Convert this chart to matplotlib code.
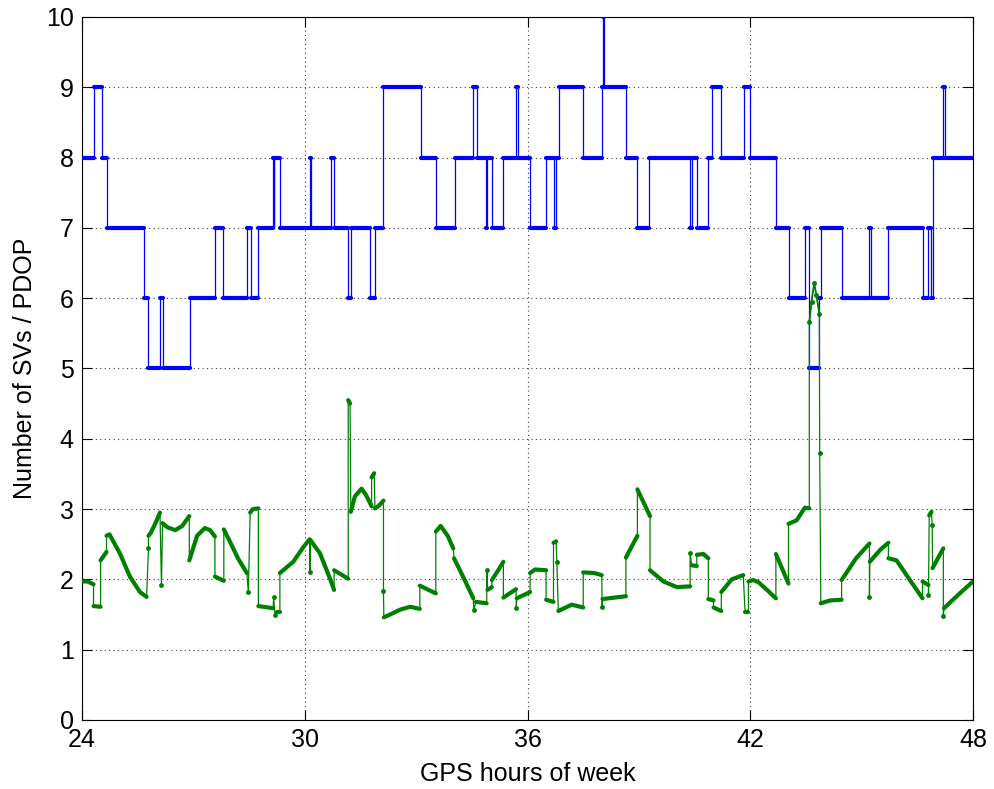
import numpy as np
import matplotlib
matplotlib.use("Agg")
import matplotlib.pyplot as plt

plt.rcParams['font.family'] = ['Liberation Sans', 'DejaVu Sans']

# number of satellites in view: hour where each level starts, and the level
sv_hours = [24.00, 24.31, 24.53, 24.66, 25.67, 25.79, 26.10, 26.19, 26.91, 27.58,
            27.81, 28.44, 28.54, 28.75, 29.14, 29.16, 29.18, 29.33, 30.14, 30.17,
            30.70, 30.79, 31.17, 31.24, 31.76, 31.89, 32.12, 33.12, 33.53, 34.05,
            34.54, 34.65, 34.89, 34.91, 35.04, 35.33, 35.69, 35.74, 36.07, 36.50,
            36.70, 36.77, 36.86, 37.50, 38.00, 38.03, 38.05, 38.65, 38.96, 39.28,
            40.38, 40.42, 40.56, 40.87, 40.98, 41.21, 41.83, 41.99, 42.69, 43.03,
            43.47, 43.59, 43.86, 43.90, 44.46, 45.21, 45.24, 45.72, 46.64, 46.80,
            46.86, 46.91, 47.20, 47.25]
sv_counts = [8, 9, 8, 7, 6, 5, 6, 5, 6, 7,
             6, 7, 6, 7, 8, 7, 8, 7, 8, 7,
             8, 7, 6, 7, 6, 7, 9, 8, 7, 8,
             9, 8, 7, 8, 7, 8, 9, 8, 7, 8,
             7, 8, 9, 8, 9, 10, 9, 8, 7, 8,
             7, 8, 7, 8, 9, 8, 9, 8, 7, 6,
             7, 5, 6, 7, 6, 7, 6, 7, 6, 7,
             6, 8, 9, 8]
sv_end = 48.0

# PDOP samples, grouped into continuous arcs (pdop_arc_sizes points each)
pdop_hours = [24.00, 24.15, 24.31,  24.31, 24.50,  24.50, 24.66,
              24.66, 24.74, 25.02, 25.29, 25.56, 25.74,  25.79,
              25.79, 25.85, 25.98, 26.10,  26.14,  26.17, 26.30, 26.51, 26.70, 26.89,
              26.89, 27.10, 27.31, 27.45, 27.58,  27.58, 27.82,
              27.82, 28.00, 28.20, 28.44,  28.48,  28.53, 28.60, 28.75,
              28.75, 29.15,  29.16,  29.20,  29.24, 29.33,
              29.33, 29.69, 29.95, 30.13,  30.14,  30.15, 30.41, 30.68, 30.79,
              30.79, 31.17,  31.17, 31.22,  31.24, 31.35, 31.53, 31.65, 31.80,
              31.80, 31.87,  31.89, 32.00, 32.12,  32.12,
              32.13, 32.30, 32.57, 32.84, 33.10,  33.10, 33.53,
              33.53, 33.66, 33.85, 34.00,  34.02, 34.30, 34.54,  34.55,
              34.61, 34.90,  34.91,  34.92, 35.04,  35.04, 35.20, 35.35,
              35.35, 35.69,  35.70,  35.71, 36.07,  36.07, 36.20, 36.50,
              36.50, 36.70,  36.70, 36.77,  36.79,  36.83, 37.19, 37.50,
              37.50, 37.80, 38.00,  38.01,  38.02, 38.65,  38.65, 38.96,
              38.96, 39.30,  39.30, 39.66, 40.02, 40.38,  40.38,
              40.42, 40.56,  40.56, 40.74, 40.87,  40.87, 41.01,  41.01, 41.22,
              41.22, 41.50, 41.81,  41.86, 41.95,
              41.95, 42.08, 42.22, 42.45, 42.69,  42.69, 43.03,
              43.03, 43.25, 43.47, 43.59,  43.59, 43.65, 43.72, 43.78, 43.86,  43.87,
              43.90, 44.15, 44.46,  44.46, 44.85, 45.21,  45.21,
              45.22, 45.50, 45.72,  45.72, 45.94, 46.30, 46.64,  46.64, 46.80,  46.80,
              46.82, 46.88,  46.90,  46.91, 47.20,  47.20,  47.22, 47.60, 48.00]
pdop_values = [1.97, 1.97, 1.93,  1.62, 1.61,  2.27, 2.39,
               2.62, 2.64, 2.37, 2.04, 1.82, 1.75,  2.44,
               2.62, 2.66, 2.80, 2.95,  1.92,  2.80, 2.74, 2.70, 2.76, 2.90,
               2.27, 2.62, 2.73, 2.70, 2.61,  2.04, 1.98,
               2.71, 2.52, 2.30, 2.09,  1.82,  2.95, 3.00, 3.01,
               1.62, 1.59,  1.75,  1.49,  1.53, 1.53,
               2.09, 2.25, 2.45, 2.57,  2.11,  2.56, 2.37, 2.01, 1.85,
               2.13, 2.01,  4.55, 4.50,  2.96, 3.18, 3.29, 3.20, 3.04,
               3.45, 3.51,  3.01, 3.05, 3.12,  1.83,
               1.46, 1.50, 1.57, 1.61, 1.58,  1.91, 1.80,
               2.68, 2.76, 2.62, 2.44,  2.30, 2.00, 1.73,  1.56,
               1.68, 1.66,  2.14,  1.85, 1.89,  1.99, 2.12, 2.25,
               1.74, 1.86,  1.59,  1.73, 1.82,  2.09, 2.14, 2.13,
               1.71, 1.68,  2.52, 2.54,  2.25,  1.55, 1.64, 1.60,
               2.10, 2.09, 2.06,  1.61,  1.72, 1.76,  2.31, 2.62,
               3.28, 2.90,  2.13, 1.97, 1.89, 1.90,  2.38,
               2.20, 2.19,  2.35, 2.36, 2.30,  1.72, 1.70,  1.60, 1.55,
               1.82, 2.00, 2.06,  1.54, 1.54,
               1.97, 1.99, 1.96, 1.85, 1.73,  2.36, 1.94,
               2.79, 2.84, 3.02, 3.01,  5.66, 5.95, 6.21, 6.05, 5.78,  3.80,
               1.66, 1.70, 1.71,  1.99, 2.30, 2.51,  1.75,
               2.25, 2.42, 2.52,  2.30, 2.27, 1.99, 1.73,  1.97, 1.92,  1.78,
               2.91, 2.96,  2.77,  2.16, 2.44,  1.48,  1.59, 1.78, 1.97]
pdop_arc_sizes = [3, 2, 2, 6, 1, 4, 1, 5, 5, 2,
                  4, 1, 3, 2, 1, 1, 2, 4, 1, 4,
                  2, 2, 5, 2, 3, 1, 5, 2, 4, 3,
                  1, 2, 1, 2, 3, 2, 1, 2, 3, 2,
                  2, 1, 3, 3, 1, 2, 2, 2, 4, 1,
                  2, 3, 2, 2, 3, 2, 5, 2, 4, 5,
                  1, 3, 3, 1, 3, 4, 2, 1, 2, 1,
                  2, 1, 3]
# the arc around the 43.7 h spike is sparse, scattered samples
pdop_sparse_arc = 59

sv_blue = (0, 0, 1)
pdop_green = (0, 0.5, 0)

fig = plt.figure(figsize=(9.94, 7.89), dpi=100)
ax = fig.add_axes([0.0825, 0.0875, 0.8964, 0.8910])

# satellite count: thin step line plus thick runs where samples sit on a level
ax.step(sv_hours + [sv_end], sv_counts + [sv_counts[-1]], where='post',
        color=sv_blue, lw=0.9, zorder=3)
sv_stops = sv_hours[1:] + [sv_end]
for start, stop, n in zip(sv_hours, sv_stops, sv_counts):
    ax.plot([start, stop], [n, n], color=sv_blue, lw=3.0,
            solid_capstyle='round', zorder=3)

# PDOP: thin line through every sample, thick along each arc
ax.plot(pdop_hours, pdop_values, color=pdop_green, lw=0.9, zorder=4)
i = 0
for k, size in enumerate(pdop_arc_sizes):
    h = pdop_hours[i:i + size]
    v = pdop_values[i:i + size]
    if size == 1:
        ax.plot(h, v, 'o', color=pdop_green, ms=3.5, mew=0, zorder=4)
    elif k == pdop_sparse_arc:
        ax.plot(h, v, '.-', color=pdop_green, lw=1.2, ms=5, zorder=4)
    else:
        ax.plot(h, v, color=pdop_green, lw=3.0, solid_capstyle='round',
                solid_joinstyle='round', zorder=4)
    i += size

ax.set_xlim(24, 48)
ax.set_ylim(0, 10)
ax.set_xticks([24, 30, 36, 42, 48])
ax.set_yticks(range(0, 11))
ax.grid(True, color='0.25', linestyle=(0, (1, 3)), lw=0.8)
ax.tick_params(direction='in', length=7, width=0.8, labelsize=18,
               top=True, right=True, pad=6)
for s in ax.spines.values():
    s.set_linewidth(0.8)

ax.set_xlabel('GPS hours of week', fontsize=18, labelpad=7)
ax.set_ylabel('Number of SVs / PDOP', fontsize=18, labelpad=6)

fig.savefig('out.png', dpi=100)
